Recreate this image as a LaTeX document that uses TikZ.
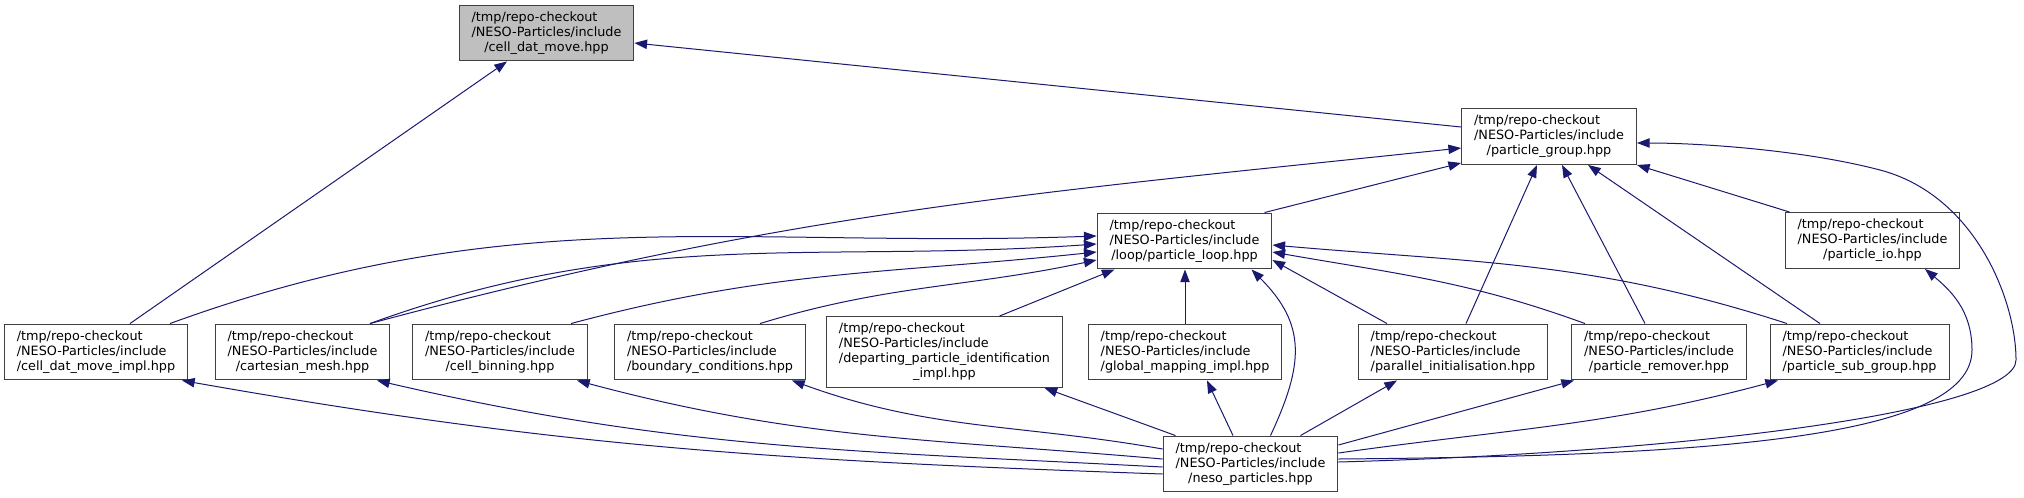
\documentclass[tikz,border=0pt]{standalone}
\usepackage{fontspec}
\setmainfont{DejaVu Sans}
\usetikzlibrary{arrows.meta, calc}
\definecolor{edgeblue}{HTML}{191970}
\definecolor{focusgray}{HTML}{BFBFBF}

\newcommand{\incpath}[1]{\begin{tabular}{@{}l@{}}/tmp/repo-checkout\\/NESO-Particles/include\\\multicolumn{1}{@{}c@{}}{#1}\end{tabular}}

\begin{document}
\begin{tikzpicture}[x=0.75pt, y=0.75pt,
  file/.style={rectangle, draw=black!75, line width=0.75pt, fill=white,
  inner xsep=9.4pt, inner ysep=4.1pt, font=\fontsize{9.6}{11.25}\selectfont},
  incl/.style={draw=edgeblue, line width=0.75pt, -{Triangle[length=9.5pt, width=7pt]}}]
  \useasboundingbox (0,0) rectangle (2024,-497);

  \node[file, fill=focusgray] (cdm) at (546.5,-33) {\incpath{/cell\_dat\_move.hpp}};
  \node[file] (pg)    at (1549,-136.5)  {\incpath{/particle\_group.hpp}};
  \node[file] (loop)  at (1184.5,-241)  {\incpath{/loop/particle\_loop.hpp}};
  \node[file] (pio)   at (1872.5,-240.5) {\incpath{/particle\_io.hpp}};
  \node[file] (cdmi)  at (96,-352)      {\incpath{/cell\_dat\_move\_impl.hpp}};
  \node[file] (cart)  at (302.5,-352)   {\incpath{/cartesian\_mesh.hpp}};
  \node[file] (cbin)  at (500,-352)     {\incpath{/cell\_binning.hpp}};
  \node[file] (bc)    at (710,-352)     {\incpath{/boundary\_conditions.hpp}};
  \node[file] (dep)   at (944.5,-352)   {\begin{tabular}{@{}l@{}}/tmp/repo-checkout\\/NESO-Particles/include\\/departing\_particle\_identification\\\multicolumn{1}{@{}c@{}}{\_impl.hpp}\end{tabular}};
  \node[file] (gm)    at (1185,-352)    {\incpath{/global\_mapping\_impl.hpp}};
  \node[file] (pinit) at (1453,-352)    {\incpath{/parallel\_initialisation.hpp}};
  \node[file] (prem)  at (1659,-352)    {\incpath{/particle\_remover.hpp}};
  \node[file] (psub)  at (1859.5,-352)  {\incpath{/particle\_sub\_group.hpp}};
  \node[file] (neso)  at (1250.5,-464)  {\incpath{/neso\_particles.hpp}};

  \draw[incl] ($(cdmi.north)+(34,0)$) -- ($(cdm.south)+(-39.5,0)$);
  \draw[incl] ($(pg.west)+(0,9.5)$) -- ($(cdm.east)+(0,-10)$);

  \draw[incl] ($(cart.north)+(67.5,0)$) to[out=15,in=186] ($(pg.west)+(0,-11.5)$);
  \draw[incl] ($(loop.north)+(80,0)$) -- ($(pg.south west)+(0,2)$);
  \draw[incl] ($(pinit.north)+(13,0)$) -- ($(pg.south)+(-12,0)$);
  \draw[incl] ($(prem.north)+(-14,0)$) -- ($(pg.south)+(13,0)$);
  \draw[incl] ($(psub.north)+(-39.5,0)$) -- ($(pg.south)+(39,0)$);
  \draw[incl] ($(pio.north west)+(5,0)$) -- (pg.south east);
  \draw[incl] ($(neso.east)+(0,2)$) .. controls (1700,-452) and (2016,-410) .. (2016,-360)
    .. controls (2016,-300) and (1975,-195) .. (1880,-170)
    .. controls (1804,-150) and (1700,-143) .. ($(pg.east)+(0,-6.5)$);
  \draw[incl] ($(neso.east)+(0,5)$) .. controls (1700,-456) and (1972,-440) .. (1972,-350)
    .. controls (1972,-310) and (1950,-290) .. ($(pio.south)+(52.5,0)$);

  \draw[incl] ($(cdmi.north)+(74,0)$) to[out=20,in=182] ($(loop.west)+(0,5)$);
  \draw[incl] ($(cart.north)+(67.5,0)$) to[out=20,in=184] ($(loop.west)+(0,-3)$);
  \draw[incl] ($(cbin.north)+(71,0)$) to[out=15,in=186] ($(loop.west)+(0,-11)$);
  \draw[incl] ($(bc.north)+(50,0)$) to[out=17,in=192] ($(loop.west)+(0,-19)$);
  \draw[incl] ($(dep.north)+(55,0)$) -- ($(loop.south)+(-70,0)$);
  \draw[incl] (gm.north) -- (gm.north |- loop.south);
  \draw[incl] ($(neso.north)+(20,0)$) to[out=65,in=-45,looseness=1.2] ($(loop.south)+(67,0)$);
  \draw[incl] ($(pinit.north)+(-66,0)$) -- ($(loop.east)+(0,-19)$);
  \draw[incl] ($(prem.north)+(-74,0)$) to[out=160,in=-10] ($(loop.east)+(0,-11)$);
  \draw[incl] ($(psub.north)+(-72.5,0)$) to[out=162,in=-5] ($(loop.east)+(0,-4)$);

  \draw[incl] ($(neso.west)+(0,-10)$) to[out=178,in=-10] ($(cdmi.south)+(86,0)$);
  \draw[incl] ($(neso.west)+(0,-3)$) to[out=177,in=-13] ($(cart.south)+(74.5,0)$);
  \draw[incl] ($(neso.west)+(0,5)$) to[out=175,in=-15] ($(cbin.south)+(77,0)$);
  \draw[incl] ($(neso.west)+(0,15)$) to[out=170,in=-20] ($(bc.south)+(82,0)$);
  \draw[incl] ($(neso.north)+(-75,0)$) -- ($(dep.south)+(100,0)$);
  \draw[incl] ($(neso.north)+(-17.5,0)$) -- ($(gm.south)+(22,0)$);
  \draw[incl] ($(neso.north)+(50,0)$) -- ($(pinit.south)+(-56,0)$);
  \draw[incl] ($(neso.east)+(0,19)$) -- ($(prem.south)+(-85,0)$);
  \draw[incl] ($(neso.east)+(0,11)$) to[out=8,in=-165] ($(psub.south)+(-81.5,0)$);
\end{tikzpicture}
\end{document}
